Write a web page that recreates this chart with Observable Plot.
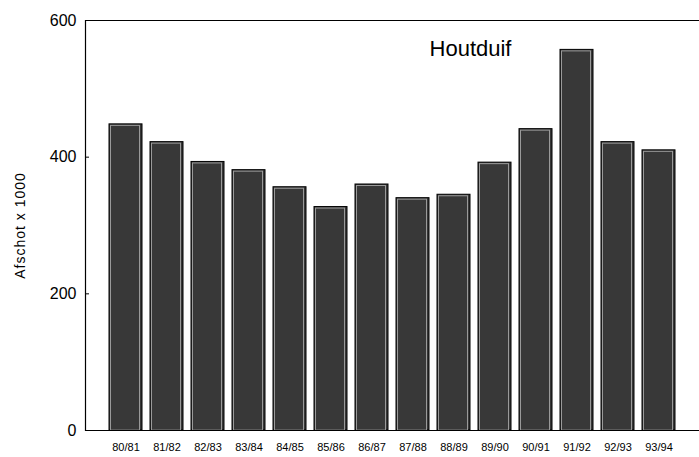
<!DOCTYPE html>
<html>
<head>
<meta charset="utf-8">
<script src="https://cdn.jsdelivr.net/npm/d3@7"></script>
<script src="https://cdn.jsdelivr.net/npm/@observablehq/plot@0.6"></script>
<style>
  html, body { margin: 0; padding: 0; background: #fff; }
  #chart { width: 699px; height: 457px; }
  .ylab text { letter-spacing: 1px; }
</style>
</head>
<body>
<div id="chart"></div>
<script>
const seasons = ["80/81","81/82","82/83","83/84","84/85","85/86","86/87","87/88","88/89","89/90","90/91","91/92","92/93","93/94"];
const afschot = [448, 422, 393, 381, 356, 327, 360, 340, 345, 392, 441, 557, 422, 410];
const yTicks = [0, 200, 400, 600];
const title = "Houtduif";
const yLabel = "Afschot x 1000";

const data = seasons.map((s, i) => ({season: s, value: afschot[i]}));

const chart = Plot.plot({
  width: 699,
  height: 457,
  marginTop: 20,
  marginBottom: 27,
  marginLeft: 85,
  marginRight: 0,
  style: {fontFamily: "'Liberation Sans', Arial, sans-serif", background: "#fff", color: "#000"},
  x: {domain: seasons, paddingInner: 0.2, paddingOuter: 0.5},
  y: {domain: [0, 600]},
  marks: [
    Plot.barY(data, {x: "season", y: "value", fill: "#383838", stroke: "#000", strokeWidth: 1}),
    Plot.barY(data, {x: "season", y: "value", fill: "none", stroke: "#9a9a9a", strokeWidth: 1, insetLeft: 1.5, insetTop: 1.5, insetRight: 2.5, insetBottom: 0}),
    Plot.ruleY([0, 600], {stroke: "#000", strokeWidth: 1.2}),
    Plot.frame({anchor: "left", stroke: "#000", strokeWidth: 1.2}),
    Plot.axisY({ticks: yTicks, tickSize: -4, tickPadding: 13, fontSize: 16, label: null}),
    Plot.axisX({tickSize: 0, tickPadding: 13, fontSize: 11, label: null}),
    Plot.text([yLabel], {frameAnchor: "left", rotate: -90, dx: -65, textAnchor: "middle", fontSize: 14, text: d => d, className: "ylab"}),
    Plot.text([title], {frameAnchor: "top", dx: 78, dy: 20, fontSize: 22, text: d => d})
  ]
});
document.getElementById("chart").appendChild(chart);
</script>
</body>
</html>
